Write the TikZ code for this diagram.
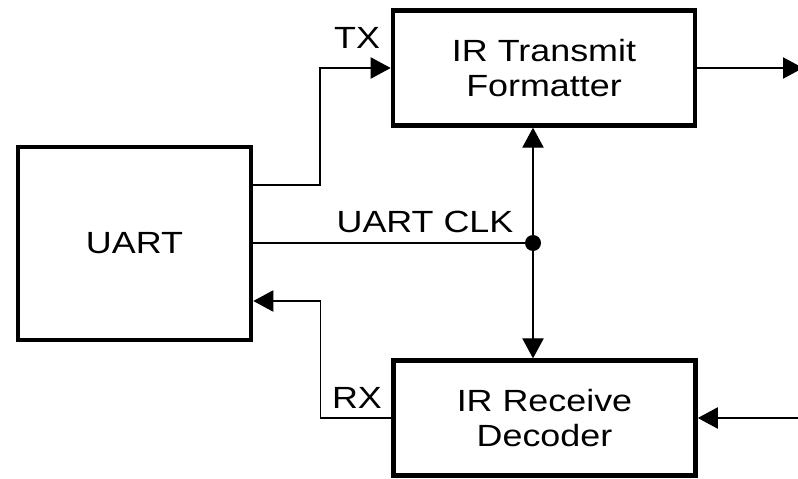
\documentclass[tikz,border=0pt]{standalone}
\usepackage{fontspec}
\setmainfont{Liberation Sans}[FakeStretch=1.17]
\usetikzlibrary{arrows.meta}

\begin{document}
\begin{tikzpicture}[x=0.75pt,y=-0.75pt,>={Triangle[length=15pt,width=16pt]},
  every node/.style={font=\fontsize{23}{26}\selectfont},
  box/.style={draw,line width=3.5pt,align=center,minimum width=226.5pt,minimum height=86pt},
  sig/.style={->,line width=0.8pt}]
  \useasboundingbox (0,0) rectangle (798,478);
  \node[box,minimum width=174.75pt,minimum height=144.75pt] (uart) at (134.5,243.5) {UART};
  \node[box] (tx) at (544,68) {IR Transmit\\Formatter};
  \node[box] (rx) at (544.5,418) {IR Receive\\Decoder};
  \node[circle,fill,inner sep=0pt,minimum size=12pt] (clk) at (533,243) {};
  \coordinate (irout) at (803,68);
  \coordinate (irin) at (799,418);
  \draw[sig] (uart.east |- 0,185) -| ([xshift=-53pt]tx.west) -- (tx.west);
  \draw[sig] (rx.west) -- ++(-53pt,0) |- (uart.east |- 0,301);
  \draw[line width=0.8pt] (uart.east |- clk) -- (clk);
  \draw[sig] (clk) -- (clk |- tx.south);
  \draw[sig] (clk) -- (clk |- rx.north);
  \draw[sig] (tx.east) -- (irout);
  \draw[sig] (irin) -- (rx.east);
  \node at (357,38) {TX};
  \node at (425,222) {UART CLK};
  \node at (357,398) {RX};
\end{tikzpicture}
\end{document}
